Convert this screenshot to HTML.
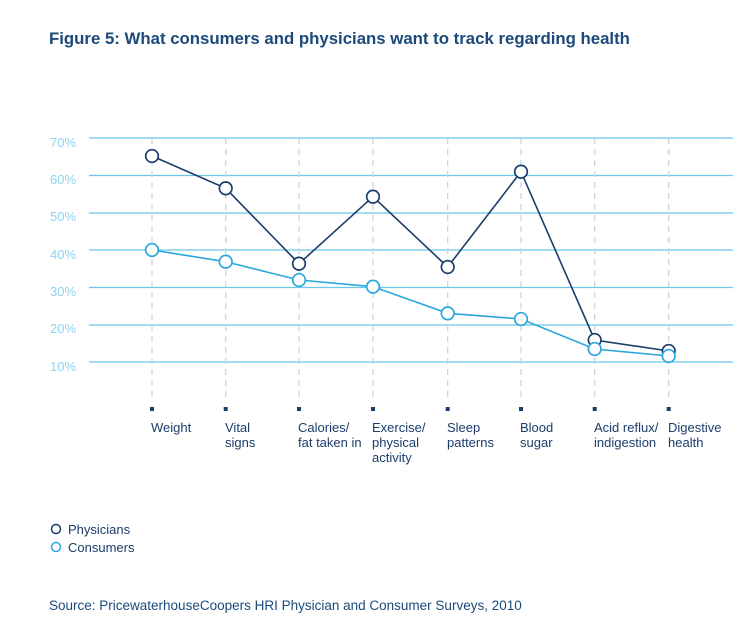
<!DOCTYPE html>
<html><head><style>
body{margin:0;background:#fff;width:750px;height:626px;overflow:hidden;font-family:"Liberation Sans",Arial,sans-serif;}
</style></head><body>
<svg width="750" height="626" xmlns="http://www.w3.org/2000/svg" font-family="Liberation Sans, Arial, sans-serif">
<text x="49" y="44" font-size="16.8" font-weight="bold" fill="#1b4a7a">Figure 5: What consumers and physicians want to track regarding health</text>
<g stroke="#6cc8e8" stroke-width="1.3">
<line x1="89" x2="733" y1="138" y2="138"/><line x1="89" x2="733" y1="175.5" y2="175.5"/>
<line x1="89" x2="733" y1="213" y2="213"/><line x1="89" x2="733" y1="250" y2="250"/>
<line x1="89" x2="733" y1="287.5" y2="287.5"/><line x1="89" x2="733" y1="325" y2="325"/>
<line x1="89" x2="733" y1="362" y2="362"/>
</g>
<g font-size="13" fill="#8dd3ee">
<text x="50" y="147">70%</text><text x="50" y="184">60%</text><text x="50" y="221">50%</text>
<text x="50" y="259">40%</text><text x="50" y="296">30%</text><text x="50" y="333">20%</text><text x="50" y="371">10%</text>
</g>
<g stroke="#c5d3e0" stroke-width="1.2" stroke-dasharray="6,5">
<line x1="152" x2="152" y1="138" y2="402"/><line x1="225.7" x2="225.7" y1="138" y2="402"/>
<line x1="299" x2="299" y1="138" y2="402"/><line x1="373" x2="373" y1="138" y2="402"/>
<line x1="447.7" x2="447.7" y1="138" y2="402"/><line x1="521" x2="521" y1="138" y2="402"/>
<line x1="594.7" x2="594.7" y1="138" y2="402"/><line x1="668.7" x2="668.7" y1="138" y2="402"/>
</g>
<g fill="#1b3d6b">
<rect x="150" y="407" width="4" height="4"/><rect x="223.7" y="407" width="4" height="4"/>
<rect x="297" y="407" width="4" height="4"/><rect x="371" y="407" width="4" height="4"/>
<rect x="445.7" y="407" width="4" height="4"/><rect x="519" y="407" width="4" height="4"/>
<rect x="592.7" y="407" width="4" height="4"/><rect x="666.7" y="407" width="4" height="4"/>
</g>
<g font-size="13" fill="#1b3d6b">
<text x="151" y="432">Weight</text>
<text x="225" y="432">Vital</text><text x="225" y="447">signs</text>
<text x="298" y="432">Calories/</text><text x="298" y="447">fat taken in</text>
<text x="372" y="432">Exercise/</text><text x="372" y="447">physical</text><text x="372" y="462">activity</text>
<text x="447" y="432">Sleep</text><text x="447" y="447">patterns</text>
<text x="520" y="432">Blood</text><text x="520" y="447">sugar</text>
<text x="594" y="432">Acid reflux/</text><text x="594" y="447">indigestion</text>
<text x="668" y="432">Digestive</text><text x="668" y="447">health</text>
</g>
<polyline fill="none" stroke="#1b3d6b" stroke-width="1.6" points="152,156 225.7,188.3 299,263.7 373,196.7 447.7,267 521,171.7 594.7,340 668.7,351"/>
<g fill="#fff" stroke="#1b3d6b" stroke-width="1.7">
<circle cx="152" cy="156" r="6.3"/><circle cx="225.7" cy="188.3" r="6.3"/><circle cx="299" cy="263.7" r="6.3"/><circle cx="373" cy="196.7" r="6.3"/><circle cx="447.7" cy="267" r="6.3"/><circle cx="521" cy="171.7" r="6.3"/><circle cx="594.7" cy="340" r="6.3"/><circle cx="668.7" cy="351" r="6.3"/>
</g>
<polyline fill="none" stroke="#2aa8dc" stroke-width="1.6" points="152,250 225.7,261.7 299,280 373,286.7 447.7,313.3 521,319 594.7,349 668.7,356"/>
<g fill="#fff" stroke="#2aa8dc" stroke-width="1.7">
<circle cx="152" cy="250" r="6.3"/><circle cx="225.7" cy="261.7" r="6.3"/><circle cx="299" cy="280" r="6.3"/><circle cx="373" cy="286.7" r="6.3"/><circle cx="447.7" cy="313.3" r="6.3"/><circle cx="521" cy="319" r="6.3"/><circle cx="594.7" cy="349" r="6.3"/><circle cx="668.7" cy="356" r="6.3"/>
</g>
<circle cx="56" cy="529" r="4.5" fill="#fff" stroke="#1b3d6b" stroke-width="1.5"/>
<text x="68" y="534" font-size="13" fill="#1b3d6b">Physicians</text>
<circle cx="56" cy="547" r="4.5" fill="#fff" stroke="#2aa8dc" stroke-width="1.5"/>
<text x="68" y="552" font-size="13" fill="#1b3d6b">Consumers</text>
<text x="49" y="610" font-size="13.5" fill="#1b4a7a">Source: PricewaterhouseCoopers HRI Physician and Consumer Surveys, 2010</text>
</svg>
</body></html>
